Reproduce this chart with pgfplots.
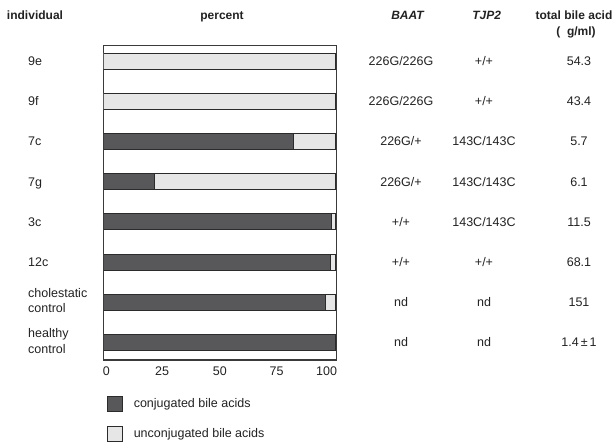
\documentclass[border=0pt]{standalone}
\usepackage{fontspec}
\setmainfont{Liberation Sans}
\usepackage{pgfplots}
\pgfplotsset{compat=1.18}
\definecolor{darkc}{HTML}{58585A}
\definecolor{lightc}{HTML}{E6E6E7}
\definecolor{edgec}{HTML}{2B2B2B}
\definecolor{axisc}{HTML}{3A3A3A}
\definecolor{txt}{HTML}{222222}
\newcommand\f{\fontsize{12.5bp}{15bp}\selectfont}
\newcommand\h{\fontsize{12bp}{14bp}\selectfont\bfseries}
\begin{document}
\begin{tikzpicture}[x=1bp,y=-1bp]
\path[use as bounding box] (0,0) rectangle (615,442);
\begin{axis}[
  at={(103.5bp,-360bp)}, anchor=south west,
  width=233bp, height=314.5bp, scale only axis,
  xbar stacked, bar width=16bp,
  xmin=0, xmax=100.6, ymin=-0.39, ymax=7.44, y dir=reverse,
  ytick=\empty, xtick={1.2,25.3,50.2,74.7,96.3},
  xticklabels={0,25,50,75,100}, major tick length=0pt,
  axis line style={line width=1.1bp, draw=axisc},
  tick label style={font=\f, text=txt},
  xticklabel style={yshift=-3bp},
  /pgf/number format/assume math mode=true,
  legend style={at={(0.015,-0.1135)}, anchor=north west, draw=none, fill=none,
    inner sep=0pt, outer sep=0pt, font=\f, text=txt, row sep=14.5bp,
    nodes={inner sep=0pt}, column sep=11bp},
  legend cell align=left,
]
\addplot[fill=darkc, draw=edgec, line width=0.8bp,
  legend image code/.code={\draw[fill=darkc, draw=edgec, line width=0.8bp] (0bp,-7.5bp) rectangle (15bp,7.5bp);}]
  coordinates {(0,0) (0,1) (82,2) (22,3) (98.5,4) (98,5) (96,6) (100,7)};
\addplot[fill=lightc, draw=edgec, line width=0.8bp,
  legend image code/.code={\draw[fill=lightc, draw=edgec, line width=0.8bp] (0bp,-7.5bp) rectangle (15bp,7.5bp);}]
  coordinates {(100,0) (100,1) (18,2) (78,3) (1.5,4) (2,5) (4,6) (0,7)};
\legend{conjugated bile acids, unconjugated bile acids}
\end{axis}
% headers
\begin{scope}[every node/.style={text=txt, inner sep=0pt}]
\node[anchor=base] at (35,20) {\h individual};
\node[anchor=base] at (222,20) {\h percent};
\node[anchor=base] at (407.5,20) {\h\itshape BAAT};
\node[anchor=base] at (486.7,20) {\h\itshape TJP2};
\node[anchor=base] at (574,20) {\h total bile acid};
\node[anchor=base] at (576,36) {\h (\ \ g/ml)};
% row labels
\node[anchor=base west] at (28,65.6) {\f 9e};
\node[anchor=base west] at (28,105.7) {\f 9f};
\node[anchor=base west] at (28,145.8) {\f 7c};
\node[anchor=base west] at (28,186.1) {\f 7g};
\node[anchor=base west] at (28,226.3) {\f 3c};
\node[anchor=base west] at (28,266.3) {\f 12c};
\node[anchor=base west] at (28,297.5) {\f cholestatic};
\node[anchor=base west] at (28,312.5) {\f control};
\node[anchor=base west] at (28,337.5) {\f healthy};
\node[anchor=base west] at (28,353) {\f control};
% BAAT
\node[anchor=base] at (401,65.6) {\f 226G/226G};
\node[anchor=base] at (401,105.7) {\f 226G/226G};
\node[anchor=base] at (401,145.8) {\f 226G/+};
\node[anchor=base] at (401,186.1) {\f 226G/+};
\node[anchor=base] at (401,226.3) {\f +/+};
\node[anchor=base] at (401,266.3) {\f +/+};
\node[anchor=base] at (401,306.3) {\f nd};
\node[anchor=base] at (401,346.6) {\f nd};
% TJP2
\node[anchor=base] at (484,65.6) {\f +/+};
\node[anchor=base] at (484,105.7) {\f +/+};
\node[anchor=base] at (484,145.8) {\f 143C/143C};
\node[anchor=base] at (484,186.1) {\f 143C/143C};
\node[anchor=base] at (484,226.3) {\f 143C/143C};
\node[anchor=base] at (484,266.3) {\f +/+};
\node[anchor=base] at (484,306.3) {\f nd};
\node[anchor=base] at (484,346.6) {\f nd};
% total bile acid
\node[anchor=base] at (579,65.6) {\f 54.3};
\node[anchor=base] at (579,105.7) {\f 43.4};
\node[anchor=base] at (579,145.8) {\f 5.7};
\node[anchor=base] at (579,186.1) {\f 6.1};
\node[anchor=base] at (579,226.3) {\f 11.5};
\node[anchor=base] at (579,266.3) {\f 68.1};
\node[anchor=base] at (579,306.3) {\f 151};
\node[anchor=base] at (579,346.6) {\f 1.4\,±\,1};
\end{scope}
\end{tikzpicture}
\end{document}
